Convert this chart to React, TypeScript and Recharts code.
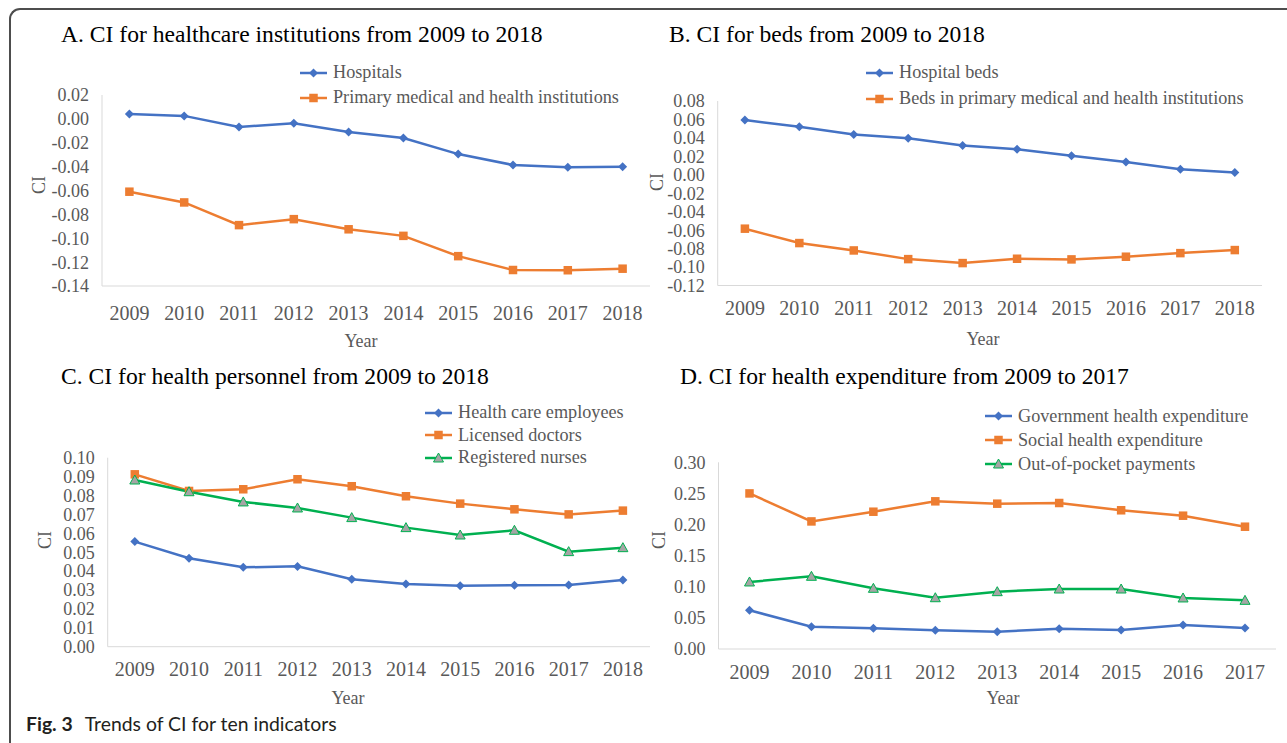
import React from 'react';
import { LineChart, Line, XAxis, YAxis, Legend } from 'recharts';

// categories
const years2018 = ['2009', '2010', '2011', '2012', '2013', '2014', '2015', '2016', '2017', '2018'];
const years2017 = ['2009', '2010', '2011', '2012', '2013', '2014', '2015', '2016', '2017'];

// A. healthcare institutions
const hospitals = [0.004, 0.0025, -0.0068, -0.0037, -0.011, -0.016, -0.0295, -0.0386, -0.0405, -0.0402];
const primaryInstitutions = [-0.061, -0.07, -0.089, -0.084, -0.0925, -0.098, -0.115, -0.1266, -0.1268, -0.1255];
// B. beds
const hospitalBeds = [0.0593, 0.052, 0.0438, 0.0395, 0.0318, 0.0278, 0.0206, 0.014, 0.0061, 0.0025];
const primaryBeds = [-0.0584, -0.074, -0.082, -0.0914, -0.0957, -0.091, -0.0917, -0.0888, -0.0849, -0.0816];
// C. health personnel
const careEmployees = [0.0556, 0.0468, 0.042, 0.0425, 0.0357, 0.0332, 0.0323, 0.0325, 0.0326, 0.0353];
const licensedDoctors = [0.0912, 0.0824, 0.0833, 0.0886, 0.0849, 0.0796, 0.0757, 0.0727, 0.07, 0.072];
const registeredNurses = [0.0882, 0.082, 0.0766, 0.0734, 0.0683, 0.063, 0.0591, 0.0616, 0.0503, 0.0524];
// D. health expenditure
const governmentExp = [0.0622, 0.0358, 0.0333, 0.03, 0.0278, 0.0326, 0.0305, 0.0386, 0.0337];
const socialExp = [0.25, 0.205, 0.2206, 0.2373, 0.2335, 0.2346, 0.2229, 0.2142, 0.1965];
const outOfPocket = [0.1077, 0.1168, 0.0975, 0.0824, 0.0921, 0.0964, 0.0964, 0.082, 0.0782];

// y tick labels
const ticksA = [0.02, 0, -0.02, -0.04, -0.06, -0.08, -0.1, -0.12, -0.14];
const ticksB = [0.08, 0.06, 0.04, 0.02, 0, -0.02, -0.04, -0.06, -0.08, -0.1, -0.12];
const ticksC = [0.1, 0.09, 0.08, 0.07, 0.06, 0.05, 0.04, 0.03, 0.02, 0.01, 0];
const ticksD = [0.3, 0.25, 0.2, 0.15, 0.1, 0.05, 0];

const BLUE = '#4472C4';
const ORANGE = '#ED7D31';
const GREEN = '#00B050';
const SERIF = '"Liberation Serif", "Times New Roman", serif';
const GREY_TEXT = '#595959';

type Shape = 'diamond' | 'square' | 'triangle';
type Series = { key: string; name: string; values: number[]; color: string; shape: Shape };

function Marker({ shape, cx, cy, color }: { shape: Shape; cx: number; cy: number; color: string }) {
  if (shape === 'diamond') {
    const r = 4.5;
    return <polygon points={`${cx},${cy - r} ${cx + r},${cy} ${cx},${cy + r} ${cx - r},${cy}`} fill={color} />;
  }
  if (shape === 'square') {
    const s = 8.5;
    return <rect x={cx - s / 2} y={cy - s / 2} width={s} height={s} fill={color} />;
  }
  const r = 5;
  return (
    <polygon
      points={`${cx},${cy - r} ${cx + r},${cy + r * 0.8} ${cx - r},${cy + r * 0.8}`}
      fill="#A5A5A5"
      stroke={color}
      strokeWidth={1}
    />
  );
}

function LegendBox({ series, rowH }: { series: Series[]; rowH: number }) {
  return (
    <div>
      {series.map((s) => (
        <div key={s.key} style={{ display: 'flex', alignItems: 'center', height: rowH }}>
          <svg width={27} height={12} style={{ marginRight: 6 }}>
            <line x1={0} y1={6} x2={27} y2={6} stroke={s.color} strokeWidth={2.5} />
            <Marker shape={s.shape} cx={13.5} cy={6} color={s.color} />
          </svg>
          <span style={{ fontFamily: SERIF, fontSize: 18.2, color: GREY_TEXT, whiteSpace: 'nowrap' }}>{s.name}</span>
        </div>
      ))}
    </div>
  );
}

type PanelProps = {
  left: number;
  top: number;
  width: number;
  height: number;
  margin: { top: number; right: number; bottom: number; left: number };
  years: string[];
  series: Series[];
  domain: [number, number];
  ticks: number[];
  padX: number;
  xTickMargin: number;
  legendX: number;
  legendY: number;
  rowH: number;
};

function Panel(p: PanelProps) {
  const data = p.years.map((y, i) => {
    const row: Record<string, string | number> = { year: y };
    p.series.forEach((s) => {
      row[s.key] = s.values[i];
    });
    return row;
  });
  return (
    <div style={{ position: 'absolute', left: p.left, top: p.top }}>
      <LineChart width={p.width} height={p.height} data={data} margin={p.margin}>
        <XAxis
          dataKey="year"
          tickLine={false}
          axisLine={{ stroke: '#D9D9D9' }}
          tick={{ fill: GREY_TEXT, fontSize: 20, fontFamily: SERIF }}
          tickMargin={p.xTickMargin}
          height={60}
          interval={0}
          padding={{ left: p.padX, right: p.padX }}
        />
        <YAxis
          type="number"
          domain={p.domain}
          ticks={p.ticks}
          interval={0}
          allowDataOverflow
          tickLine={false}
          axisLine={{ stroke: '#D9D9D9' }}
          width={60}
          tickMargin={7}
          tick={{ fill: GREY_TEXT, fontSize: 18, fontFamily: SERIF }}
          tickFormatter={(v: number) => v.toFixed(2)}
        />
        <Legend
          layout="vertical"
          align="center"
          verticalAlign="middle"
          wrapperStyle={{ left: p.legendX, top: p.legendY, width: 'auto' }}
          content={() => <LegendBox series={p.series} rowH={p.rowH} />}
        />
        {p.series.map((s) => (
          <Line
            key={s.key}
            dataKey={s.key}
            name={s.name}
            stroke={s.color}
            strokeWidth={2.5}
            isAnimationActive={false}
            dot={(d: any) => <Marker key={`${s.key}-${d.index}`} shape={s.shape} cx={d.cx} cy={d.cy} color={s.color} />}
            activeDot={false}
          />
        ))}
      </LineChart>
    </div>
  );
}

function Txt({ x, y, size, children, color = GREY_TEXT, center = false, rotate = false }: any) {
  return (
    <div
      style={{
        position: 'absolute',
        left: x,
        top: y,
        fontFamily: SERIF,
        fontSize: size,
        lineHeight: 1,
        color,
        whiteSpace: 'nowrap',
        transform: center
          ? `translate(-50%, -50%)${rotate ? ' rotate(-90deg)' : ''}`
          : 'translate(0, -50%)',
      }}
    >
      {children}
    </div>
  );
}

export default function App() {
  const seriesA: Series[] = [
    { key: 'hosp', name: 'Hospitals', values: hospitals, color: BLUE, shape: 'diamond' },
    { key: 'prim', name: 'Primary medical and health institutions', values: primaryInstitutions, color: ORANGE, shape: 'square' },
  ];
  const seriesB: Series[] = [
    { key: 'hbeds', name: 'Hospital beds', values: hospitalBeds, color: BLUE, shape: 'diamond' },
    { key: 'pbeds', name: 'Beds in primary medical and health institutions', values: primaryBeds, color: ORANGE, shape: 'square' },
  ];
  const seriesC: Series[] = [
    { key: 'emp', name: 'Health care employees', values: careEmployees, color: BLUE, shape: 'diamond' },
    { key: 'doc', name: 'Licensed doctors', values: licensedDoctors, color: ORANGE, shape: 'square' },
    { key: 'nur', name: 'Registered nurses', values: registeredNurses, color: GREEN, shape: 'triangle' },
  ];
  const seriesD: Series[] = [
    { key: 'gov', name: 'Government health expenditure', values: governmentExp, color: BLUE, shape: 'diamond' },
    { key: 'soc', name: 'Social health expenditure', values: socialExp, color: ORANGE, shape: 'square' },
    { key: 'oop', name: 'Out-of-pocket payments', values: outOfPocket, color: GREEN, shape: 'triangle' },
  ];

  return (
    <div style={{ position: 'absolute', left: 0, top: 0, width: 1287, height: 743, overflow: 'hidden', background: '#fff' }}>
      <div
        style={{
          position: 'absolute',
          left: 9,
          top: 8,
          width: 1400,
          height: 800,
          borderTop: '2px solid #4d4d4d',
          borderLeft: '2px solid #4d4d4d',
          borderTopLeftRadius: 11,
        }}
      />

      <Panel
        left={0}
        top={0}
        width={660}
        height={360}
        margin={{ top: 95, right: 10, bottom: 14, left: 42 }}
        years={years2018}
        series={seriesA}
        domain={[-0.14, 0.02]}
        ticks={ticksA}
        padX={27.4}
        xTickMargin={13.5}
        legendX={300}
        legendY={60}
        rowH={25}
      />
      <Panel
        left={640}
        top={0}
        width={640}
        height={360}
        margin={{ top: 101, right: 18, bottom: 14.5, left: 17.7 }}
        years={years2018}
        series={seriesB}
        domain={[-0.12, 0.08]}
        ticks={ticksB}
        padX={27.2}
        xTickMargin={9.5}
        legendX={226}
        legendY={59.5}
        rowH={26.3}
      />
      <Panel
        left={0}
        top={360}
        width={660}
        height={383}
        margin={{ top: 97.7, right: 10, bottom: 36.3, left: 47.7 }}
        years={years2018}
        series={seriesC}
        domain={[0, 0.1]}
        ticks={ticksC}
        padX={27.1}
        xTickMargin={9.5}
        legendX={425}
        legendY={41.8}
        rowH={22.4}
      />
      <Panel
        left={640}
        top={360}
        width={647}
        height={383}
        margin={{ top: 102.3, right: 11, bottom: 34, left: 18.5 }}
        years={years2017}
        series={seriesD}
        domain={[0, 0.3]}
        ticks={ticksD}
        padX={31}
        xTickMargin={10}
        legendX={345}
        legendY={44}
        rowH={24}
      />

      <Txt x={61} y={35} size={23.6} color="#000">A. CI for healthcare institutions from 2009 to 2018</Txt>
      <Txt x={669} y={35} size={23.6} color="#000">B. CI for beds from 2009 to 2018</Txt>
      <Txt x={61} y={377} size={23.6} color="#000">C. CI for health personnel from 2009 to 2018</Txt>
      <Txt x={680} y={377} size={23.6} color="#000">D. CI for health expenditure from 2009 to 2017</Txt>

      <Txt x={361} y={341} size={18} center>Year</Txt>
      <Txt x={983} y={339} size={18} center>Year</Txt>
      <Txt x={348} y={698} size={18} center>Year</Txt>
      <Txt x={1003} y={698} size={18} center>Year</Txt>

      <Txt x={39} y={185} size={18} center rotate>CI</Txt>
      <Txt x={657} y={182} size={18} center rotate>CI</Txt>
      <Txt x={45} y={540} size={18} center rotate>CI</Txt>
      <Txt x={659} y={540} size={18} center rotate>CI</Txt>

      <div
        style={{
          position: 'absolute',
          left: 26,
          top: 724,
          transform: 'translate(0, -50%)',
          fontFamily: 'Lato, "Open Sans", sans-serif',
          fontSize: 19.4,
          lineHeight: 1,
          color: '#231f20',
          whiteSpace: 'nowrap',
        }}
      >
        <span style={{ fontWeight: 700 }}>Fig. 3</span>
        <span style={{ marginLeft: 12 }}>Trends of CI for ten indicators</span>
      </div>
    </div>
  );
}
